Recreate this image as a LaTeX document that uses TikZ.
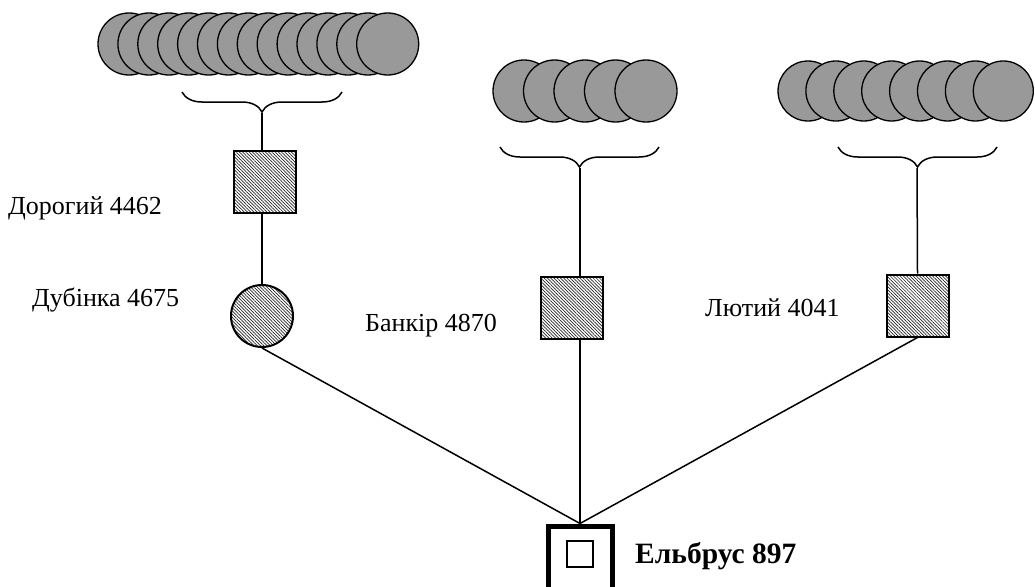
\documentclass[tikz,border=0pt]{standalone}
\usepackage{fontspec}
\setmainfont{Liberation Serif}
\usetikzlibrary{patterns.meta, decorations.pathreplacing}

\tikzset{
    kin/.style = {draw, line width=1.3pt, fill=black!40},
    male/.style = {draw, line width=2pt, minimum size=62pt, inner sep=0pt,
        pattern={Lines[angle=-45, distance=2.3pt, line width=0.7pt]}, pattern color=black!85},
    female/.style = {male, circle},
    brc/.style = {decorate, decoration={brace, mirror, amplitude=20pt}, line width=1.5pt},
    link/.style = {line width=1.5pt},
    lbl/.style = {anchor=base west, inner sep=0pt, font=\fontsize{26}{30}\selectfont}
}

\begin{document}
\begin{tikzpicture}[x=1pt, y=-1pt]
    \useasboundingbox (0,0) rectangle (1035,586);
    \foreach \i in {0,...,13} \draw[kin] (129+19.9*\i,44) circle[radius=31pt];
    \foreach \i in {0,...,4} \draw[kin] (524+30.5*\i,91) circle[radius=31pt];
    \foreach \i in {0,...,7} \draw[kin] (808+27.9*\i,91) circle[radius=30pt];
    \draw[brc] (182,92) -- (342,92);
    \draw[brc] (500,147) -- (659,147);
    \draw[brc] (838,147) -- (997,147);
    \coordinate (ltip) at (262,113);
    \coordinate (mtip) at (580,168);
    \coordinate (rtip) at (917,168);
    \node[male] (dorohyi) at (265,182) {};
    \node[female] (dubinka) at (262,316) {};
    \node[male] (bankir) at (571.5,307.5) {};
    \node[male] (lyutyi) at (917.5,305.5) {};
    \node[draw, line width=5pt, minimum size=64pt, inner sep=0pt] (elbrus) at (580,558) {};
    \node[draw, line width=1.5pt, minimum size=26pt, inner sep=0pt] (elbrusin) at (580,554) {};
    \draw[link] (ltip) -- (ltip |- dorohyi.north);
    \draw[link] (ltip |- dorohyi.south) -- (dubinka.north);
    \draw[link] (mtip) -- (mtip |- bankir.north);
    \draw[link] (mtip |- bankir.south) -- (elbrus.north);
    \draw[link] (rtip) -- (lyutyi.north);
    \draw[link] (dubinka.south) -- (elbrus.north);
    \draw[link] (lyutyi.south) -- (elbrus.north);
    \node[lbl] (dorohyilbl) at (8,214) {Дорогий 4462};
    \node[lbl] (dubinkalbl) at (32,306) {Дубінка 4675};
    \node[lbl] (bankirlbl) at (365,331) {Банкір 4870};
    \node[lbl] (lyutyilbl) at (705,316) {Лютий 4041};
    \node[lbl, font=\fontsize{29.5}{34}\selectfont\bfseries] (elbruslbl) at (635,563) {Ельбрус 897};
\end{tikzpicture}
\end{document}
